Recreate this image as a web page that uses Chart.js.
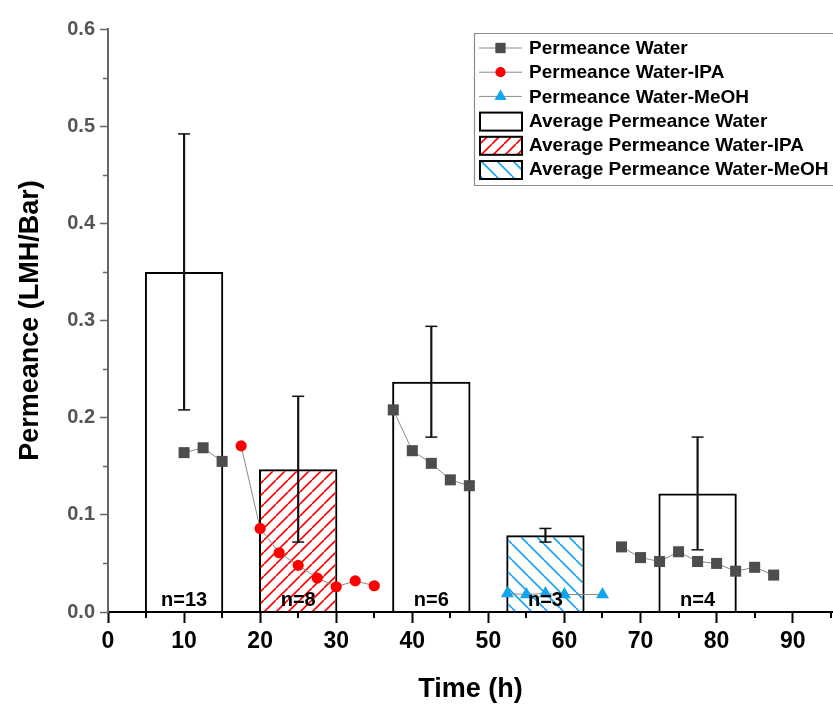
<!DOCTYPE html>
<html>
<head>
<meta charset="utf-8">
<script src="https://cdn.jsdelivr.net/npm/chart.js@4.4.1/dist/chart.umd.min.js"></script>
<style>
  html, body { margin: 0; padding: 0; background: #fff; overflow: hidden; }
  #wrap { width: 833px; height: 706px; }
</style>
</head>
<body>
<div id="wrap"><canvas id="permChart" width="833" height="706"></canvas></div>
<script>
const FONT = "'Liberation Sans', Arial, sans-serif";

// point series (time in h, permeance in LMH/bar)
const waterTime = [10, 12.5, 15, 37.5, 40, 42.5, 45, 47.5, 67.5, 70, 72.5, 75, 77.5, 80, 82.5, 85, 87.5];
const waterPerm = [0.164, 0.169, 0.155, 0.208, 0.166, 0.153, 0.136, 0.130, 0.067, 0.056, 0.052, 0.062, 0.052, 0.050, 0.042, 0.046, 0.038];
const ipaTime = [17.5, 20, 22.5, 25, 27.5, 30, 32.5, 35];
const ipaPerm = [0.171, 0.086, 0.061, 0.048, 0.035, 0.026, 0.032, 0.027];
const meohTime = [52.5, 55, 57.5, 60, 65];
const meohPerm = [0.019, 0.018, 0.019, 0.018, 0.018];

// averages
const barTime = [10, 25, 42.5, 57.5, 77.5];
const barMean = [0.350, 0.147, 0.237, 0.079, 0.122];
const barErr = [0.142, 0.075, 0.057, 0.007, 0.058];
const barSolvent = ["Water", "Water-IPA", "Water", "Water-MeOH", "Water"];
const barN = ["n=13", "n=8", "n=6", "n=3", "n=4"];

const xMinor = [5, 15, 25, 35, 45, 55, 65, 75, 85, 95];
const yMinor = [0.05, 0.15, 0.25, 0.35, 0.45, 0.55];

const RED = "rgb(255,0,0)";
const BLUE = "rgb(20,165,240)";
const GREY = "#4d4d4d";

function hatch(color, size, back) {
  const c = document.createElement("canvas");
  c.width = c.height = size;
  const g = c.getContext("2d");
  g.strokeStyle = color;
  g.lineWidth = 1.6;
  g.beginPath();
  for (const k of [-size, 0, size]) {
    if (back) { g.moveTo(k, 0); g.lineTo(k + size, size); }
    else { g.moveTo(k, size); g.lineTo(k + size, 0); }
  }
  g.stroke();
  return c;
}

const canvas = document.getElementById("permChart");
const ctx0 = canvas.getContext("2d");
const redHatch = ctx0.createPattern(hatch(RED, 12, false), "repeat");
const blueHatch = ctx0.createPattern(hatch(BLUE, 16, true), "repeat");

function pts(xs, ys) { return xs.map((x, i) => ({ x: x, y: ys[i] })); }
function barsFor(name) {
  return barTime.map((x, i) => ({ x: x, y: barMean[i] })).filter((p, i) => barSolvent[i] === name);
}
// no connecting line across the gaps between runs
const gapSeg = { borderColor: c => (c.p1.parsed.x - c.p0.parsed.x > 5 ? "rgba(0,0,0,0)" : "#8a8a8a") };

const lineBase = { type: "line", borderColor: "#8a8a8a", borderWidth: 1, pointBorderWidth: 0, order: 1, inLegend: true };
const barBase = { type: "bar", borderColor: "#000", borderWidth: 2, grouped: false, barPercentage: 1.03, categoryPercentage: 1, order: 3, inLegend: true };

const datasets = [
  Object.assign({}, lineBase, { label: "Permeance Water", data: pts(waterTime, waterPerm), pointStyle: "rect", pointRadius: 7.8, pointBackgroundColor: GREY, segment: gapSeg }),
  Object.assign({}, lineBase, { label: "Permeance Water-IPA", data: pts(ipaTime, ipaPerm), pointStyle: "circle", pointRadius: 5.6, pointBackgroundColor: RED }),
  Object.assign({}, lineBase, { label: "Permeance Water-MeOH", data: pts(meohTime, meohPerm), pointStyle: "triangle", pointRadius: 7.5, pointBackgroundColor: BLUE }),
  Object.assign({}, barBase, { label: "Average Permeance Water", data: barsFor("Water"), backgroundColor: "rgba(255,255,255,0)" }),
  Object.assign({}, barBase, { label: "Average Permeance Water-IPA", data: barsFor("Water-IPA"), backgroundColor: redHatch }),
  Object.assign({}, barBase, { label: "Average Permeance Water-MeOH", data: barsFor("Water-MeOH"), backgroundColor: blueHatch }),
  // error bars: thin floating bars plus line-style caps
  { type: "bar", label: "sd", data: barTime.map((x, i) => ({ x: x, y: [barMean[i] - barErr[i], barMean[i] + barErr[i]] })), backgroundColor: "#111", borderWidth: 0, barThickness: 1.5, grouped: false, order: 2 },
  { type: "line", label: "caps", showLine: false, order: 2,
    data: barTime.flatMap((x, i) => [{ x: x, y: barMean[i] - barErr[i] }, { x: x, y: barMean[i] + barErr[i] }]),
    pointStyle: "line", pointRadius: 6, pointBorderColor: "#111", pointBorderWidth: 1.5 }
];

const minorTicks = {
  id: "minorTicks",
  afterDraw(chart) {
    const { ctx, scales: { x, y } } = chart;
    ctx.save();
    ctx.lineWidth = 2;
    ctx.strokeStyle = "#000";
    ctx.beginPath();
    xMinor.forEach(v => {
      const px = Math.round(x.getPixelForValue(v));
      ctx.moveTo(px, x.top); ctx.lineTo(px, x.top + 6);
    });
    ctx.stroke();
    ctx.strokeStyle = "#666";
    ctx.lineWidth = 1.5;
    ctx.beginPath();
    yMinor.forEach(v => {
      const py = Math.round(y.getPixelForValue(v)) + 0.5;
      ctx.moveTo(y.right, py); ctx.lineTo(y.right - 5, py);
    });
    ctx.stroke();
    ctx.restore();
  }
};

const nLabels = {
  id: "nLabels",
  afterDatasetsDraw(chart) {
    const { ctx, scales: { x, y } } = chart;
    ctx.save();
    ctx.font = "bold 20px " + FONT;
    ctx.fillStyle = "#000";
    ctx.textAlign = "center";
    ctx.textBaseline = "middle";
    barN.forEach((t, i) => ctx.fillText(t, x.getPixelForValue(barTime[i]), y.getPixelForValue(0) - 12));
    ctx.restore();
  }
};

function marker(ctx, style, x, y, r, color) {
  ctx.fillStyle = color;
  ctx.beginPath();
  if (style === "rect") {
    const s = r * Math.SQRT1_2;
    ctx.rect(x - s, y - s, 2 * s, 2 * s);
  } else if (style === "circle") {
    ctx.arc(x, y, r, 0, Math.PI * 2);
  } else {
    ctx.moveTo(x, y - r);
    ctx.lineTo(x + r * Math.sin(2 * Math.PI / 3), y + r / 2);
    ctx.lineTo(x - r * Math.sin(2 * Math.PI / 3), y + r / 2);
    ctx.closePath();
  }
  ctx.fill();
}

const boxLegend = {
  id: "boxLegend",
  afterDraw(chart) {
    const ctx = chart.ctx;
    const items = chart.data.datasets.filter(d => d.inLegend);
    const L = 474.5, T = 33.5, B = 185.5, R = chart.width + 2;
    ctx.save();
    ctx.fillStyle = "#fff";
    ctx.fillRect(L, T, R - L, B - T);
    // frame runs off the right edge of the picture, as in the original
    ctx.strokeStyle = "#8c8c8c";
    ctx.lineWidth = 1.2;
    ctx.beginPath();
    ctx.moveTo(R, T); ctx.lineTo(L, T); ctx.lineTo(L, B); ctx.lineTo(R, B);
    ctx.stroke();
    items.forEach((d, i) => {
      const cy = 48 + i * 24.2;
      if (d.type === "line") {
        ctx.strokeStyle = "#8a8a8a";
        ctx.lineWidth = 1;
        ctx.beginPath(); ctx.moveTo(479, cy); ctx.lineTo(522, cy); ctx.stroke();
        marker(ctx, d.pointStyle, 500.5, cy, d.pointRadius - 0.5, d.pointBackgroundColor);
      } else {
        ctx.fillStyle = "#fff";
        ctx.fillRect(480, cy - 8, 42, 18);
        ctx.fillStyle = d.backgroundColor;
        ctx.fillRect(480, cy - 8, 42, 18);
        ctx.strokeStyle = "#000";
        ctx.lineWidth = 2;
        ctx.strokeRect(480, cy - 8, 42, 18);
      }
      ctx.fillStyle = "#000";
      ctx.font = "bold 19px " + FONT;
      ctx.textAlign = "left";
      ctx.textBaseline = "middle";
      ctx.fillText(d.label, 529, cy + 1);
    });
    ctx.restore();
  }
};

new Chart(canvas, {
  type: "bar",
  data: { datasets: datasets },
  options: {
    responsive: false,
    animation: false,
    layout: { autoPadding: false, padding: { top: 29, right: 0, left: 0, bottom: 0 } },
    plugins: { legend: { display: false }, tooltip: { enabled: false } },
    scales: {
      x: {
        type: "linear",
        min: 0,
        max: 95.3,
        offset: false,
        afterFit: s => { s.height = 94; s.paddingRight = 0; s.paddingLeft = 0; },
        border: { color: "#000", width: 2 },
        grid: { offset: false, drawOnChartArea: false, tickLength: 11, tickColor: "#000", tickWidth: 2 },
        ticks: { stepSize: 10, includeBounds: false, padding: 5, color: "#000", font: { family: FONT, size: 23, weight: "bold" } },
        title: { display: true, text: "Time (h)", color: "#000", padding: { top: 0, bottom: 0 }, font: { family: FONT, size: 27, weight: "bold" } }
      },
      y: {
        min: 0,
        max: 0.6,
        afterFit: s => { s.width = 108; },
        border: { color: "#666", width: 2 },
        grid: { drawOnChartArea: false, tickLength: 8, tickColor: "#666", tickWidth: 1.5 },
        ticks: { stepSize: 0.1, padding: 5, color: "#555", font: { family: FONT, size: 20, weight: "bold" }, callback: v => v.toFixed(1) },
        title: { display: true, text: "Permeance (LMH/Bar)", color: "#000", padding: { top: 14, bottom: 0 }, font: { family: FONT, size: 27, weight: "bold" } }
      }
    }
  },
  plugins: [minorTicks, nLabels, boxLegend]
});
</script>
</body>
</html>
